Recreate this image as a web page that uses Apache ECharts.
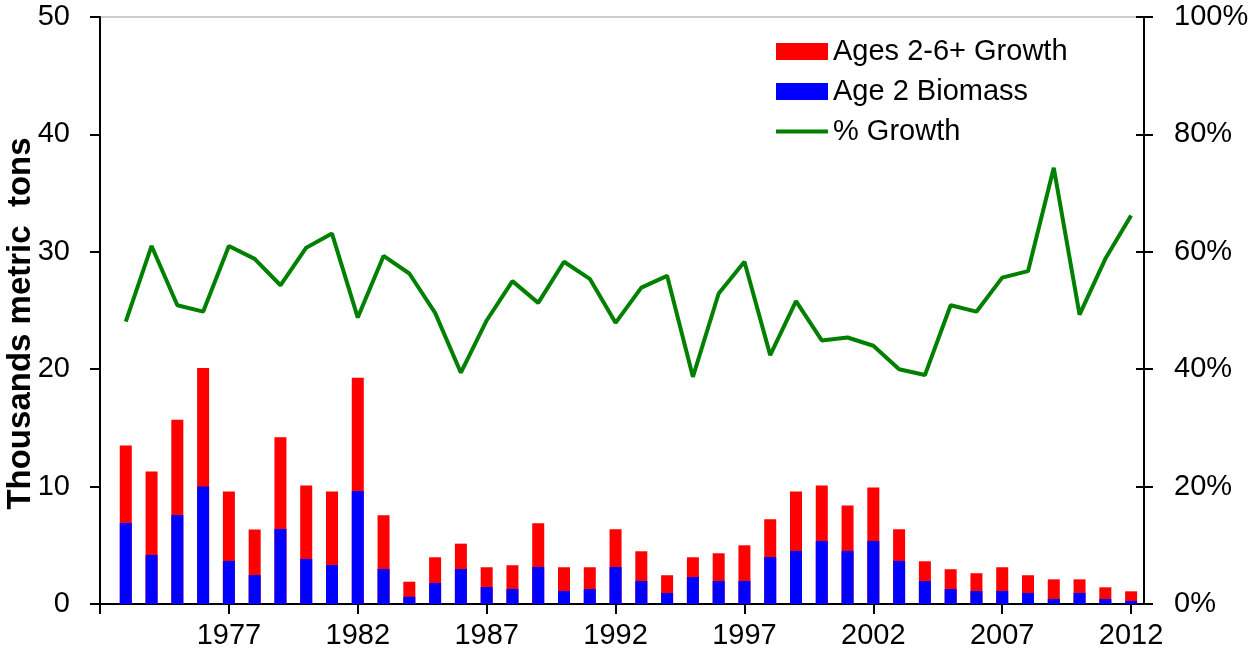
<!DOCTYPE html>
<html>
<head>
<meta charset="utf-8">
<script src="https://cdn.jsdelivr.net/npm/echarts@6/dist/echarts.min.js"></script>
<style>html,body{margin:0;padding:0;background:#fff}#c{width:1255px;height:659px}</style>
</head>
<body>
<div id="c"></div>
<script>
var years = [];
for (var y = 1973; y <= 2012; y++) years.push(y);
var age2Biomass = [6.9, 4.18, 7.59, 10.0, 3.67, 2.47, 6.39, 3.84, 3.32, 9.63,
  2.98, 0.62, 1.79, 2.98, 1.45, 1.28, 3.15, 1.11, 1.28, 3.15,
  1.96, 0.94, 2.3, 1.96, 1.96, 4.0, 4.52, 5.37, 4.52, 5.37,
  3.67, 1.96, 1.28, 1.11, 1.11, 0.94, 0.43, 0.94, 0.43, 0.26];
var growth = [6.6, 7.1, 8.11, 10.1, 5.91, 3.87, 7.81, 6.26, 6.26, 9.64,
  4.57, 1.28, 2.19, 2.16, 1.68, 2.02, 3.73, 2.02, 1.85, 3.22,
  2.53, 1.51, 1.68, 2.36, 3.04, 3.22, 5.06, 4.72, 3.86, 4.55,
  2.7, 1.68, 1.68, 1.51, 2.02, 1.51, 1.67, 1.16, 0.99, 0.82];
var pctGrowth = [48.1, 61.0, 50.9, 49.8, 61.0, 58.8, 54.3, 60.7, 63.1, 48.8,
  59.3, 56.3, 49.6, 39.4, 48.3, 55.0, 51.3, 58.3, 55.4, 47.9,
  53.9, 55.9, 38.7, 52.9, 58.3, 42.4, 51.6, 44.9, 45.4, 44.0,
  40.0, 39.0, 50.9, 49.8, 55.6, 56.7, 74.3, 49.3, 58.8, 66.2];
var tickYears = [1972, 1977, 1982, 1987, 1992, 1997, 2002, 2007, 2012];
var labelYears = [1977, 1982, 1987, 1992, 1997, 2002, 2007, 2012];
var leftTicks = [0, 10, 20, 30, 40, 50];
var rightTicks = ['0%', '20%', '40%', '60%', '80%', '100%'];

// red bar segment sits on top of the blue one: its top is biomass + growth
var stackTop = age2Biomass.map(function (b, i) { return +(b + growth[i]).toFixed(3); });
function pairs(arr) { return years.map(function (yr, i) { return [yr, arr[i]]; }); }

var FONT = "'Liberation Sans', Arial, sans-serif";
var chart = echarts.init(document.getElementById('c'), null, { renderer: 'canvas' });
chart.setOption({
  animation: false,
  textStyle: { fontFamily: FONT },
  grid: { left: 100, right: 111, top: 17, bottom: 55, outerBoundsMode: 'none', containLabel: false,
    show: true, borderColor: '#9a9a9a', borderWidth: 1, backgroundColor: 'transparent' },
  legend: [
    {
      orient: 'vertical', left: 771, top: 32,
      itemWidth: 52, itemHeight: 17, itemGap: 11, icon: 'rect',
      data: ['Ages 2-6+ Growth', 'Age 2 Biomass'],
      textStyle: { fontFamily: FONT, fontSize: 29, color: '#000', lineHeight: 29 }
    },
    {
      orient: 'vertical', left: 771, top: 112,
      itemWidth: 52, itemHeight: 4, icon: 'rect',
      data: ['% Growth'],
      textStyle: { fontFamily: FONT, fontSize: 29, color: '#000', lineHeight: 29 }
    }
  ],
  xAxis: {
    type: 'value', min: 1972, max: 2012.5,
    splitLine: { show: false },
    axisLine: { show: true, onZero: false, lineStyle: { color: '#000', width: 2 } },
    axisTick: { show: true, length: 10, lineStyle: { color: '#000', width: 2 }, customValues: tickYears },
    axisLabel: { customValues: labelYears, fontSize: 29, color: '#000', margin: 17, fontFamily: FONT,
      formatter: function (v) { return String(v); } }
  },
  yAxis: [
    {
      type: 'value', min: 0, max: 50, interval: 10, position: 'left',
      name: 'Thousands metric  tons', nameLocation: 'middle', nameGap: 63, nameRotate: 90,
      nameMoveOverlap: false,
      nameTextStyle: { fontSize: 33, fontWeight: 'bold', color: '#000', fontFamily: FONT, padding: [0, 26, 0, 0] },
      splitLine: { show: false },
      axisLine: { show: true, lineStyle: { color: '#000', width: 2 } },
      axisTick: { show: true, length: 10, lineStyle: { color: '#000', width: 2 } },
      axisLabel: { fontSize: 29, color: '#000', margin: 30, fontFamily: FONT,
        formatter: function (v) { return String(leftTicks[Math.round(v / 10)]); } }
    },
    {
      type: 'value', min: 0, max: 100, interval: 20, position: 'right',
      splitLine: { show: false },
      axisLine: { show: true, lineStyle: { color: '#000', width: 2 } },
      axisTick: { show: true, length: 9, lineStyle: { color: '#000', width: 2 } },
      axisLabel: { fontSize: 29, color: '#000', margin: 30, fontFamily: FONT,
        formatter: function (v) { return rightTicks[Math.round(v / 20)]; } }
    },
    {
      type: 'value', min: 0, max: 100, interval: 20, position: 'right',
      splitLine: { show: false },
      axisLine: { show: false },
      axisTick: { show: true, inside: true, length: 8, lineStyle: { color: '#000', width: 2 } },
      axisLabel: { show: false }
    }
  ],
  series: [
    {
      name: 'Ages 2-6+ Growth', type: 'bar', barWidth: 12, barGap: '-100%',
      itemStyle: { color: '#FF0000' }, data: pairs(stackTop), z: 2
    },
    {
      name: 'Age 2 Biomass', type: 'bar', barWidth: 12, barGap: '-100%',
      itemStyle: { color: '#0000FF' }, data: pairs(age2Biomass), z: 3
    },
    {
      name: '% Growth', type: 'line', yAxisIndex: 1, symbol: 'none',
      lineStyle: { color: '#008000', width: 4 }, itemStyle: { color: '#008000' },
      data: pairs(pctGrowth), z: 4
    }
  ]
});
</script>
</body>
</html>
